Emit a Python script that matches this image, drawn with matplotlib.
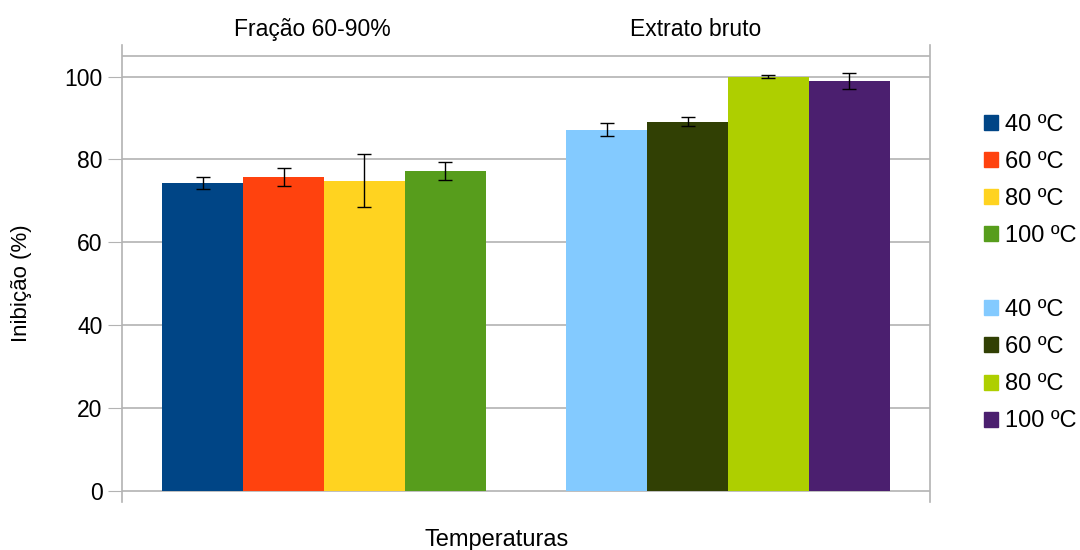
import numpy as np
import matplotlib.pyplot as plt
from matplotlib.patches import Patch

plt.rcParams['font.family'] = ['Liberation Sans', 'DejaVu Sans']

groups = ['Fração 60-90%', 'Extrato bruto']
temps = ['40 ºC', '60 ºC', '80 ºC', '100 ºC']
# inhibition values (%) and error bars, per group
frac_vals = [74.3, 75.8, 74.8, 77.2]
frac_err = [1.5, 2.1, 6.4, 2.1]
bruto_vals = [87.2, 89.1, 100.0, 99.0]
bruto_err = [1.5, 1.1, 0.3, 1.9]
frac_colors = ['#004586', '#ff420e', '#ffd320', '#579d1c']
bruto_colors = ['#83caff', '#314004', '#aecf00', '#4b1f6f']

fig = plt.figure(figsize=[10.8, 5.5], dpi=100)
ax = fig.add_axes([122/1080, 1-502/550, 808/1080, 457/550])

w = 0.2
handles = []
for i in range(4):
    x = 0 + (i - 1.5) * w
    ax.bar(x, frac_vals[i], w, color=frac_colors[i], zorder=2)
    ax.errorbar(x, frac_vals[i], yerr=frac_err[i], fmt='none', ecolor='black',
                elinewidth=1, capsize=5.3, capthick=1, zorder=3)
    handles.append(Patch(color=frac_colors[i], label=temps[i]))
handles.append(Patch(color='none', label=' '))
for i in range(4):
    x = 1 + (i - 1.5) * w
    ax.bar(x, bruto_vals[i], w, color=bruto_colors[i], zorder=2)
    ax.errorbar(x, bruto_vals[i], yerr=bruto_err[i], fmt='none', ecolor='black',
                elinewidth=1, capsize=5.3, capthick=1, zorder=3)
    handles.append(Patch(color=bruto_colors[i], label=temps[i]))

ax.set_xlim(-0.5, 1.5)
ax.set_ylim(-2.65, 107.6)
ax.set_yticks([0, 20, 40, 60, 80, 100])
ax.set_xticks([])
for y in [0, 20, 40, 60, 80, 100, 105]:
    ax.axhline(y, color='#b3b3b3', lw=1.2, zorder=1)
for s in ['top', 'bottom']:
    ax.spines[s].set_visible(False)
for s in ['left', 'right']:
    ax.spines[s].set_color('#b3b3b3')
    ax.spines[s].set_linewidth(1.2)
ax.tick_params(axis='y', length=10, color='#b3b3b3', labelsize=16.5, pad=4)

ax.text(0.235, 1.035, groups[0], transform=ax.transAxes, ha='center', va='center', fontsize=16.5)
ax.text(0.71, 1.035, groups[1], transform=ax.transAxes, ha='center', va='center', fontsize=16.5)

fig.text(497/1080, 1-540/550, 'Temperaturas', ha='center', va='center', fontsize=17)
fig.text(22/1080, 1-283/550, 'Inibição (%)', ha='center', va='center', rotation=90, fontsize=16)

fig.legend(handles=handles, loc='center left', bbox_to_anchor=(984/1080, 1-273/550),
           frameon=False, fontsize=17, handlelength=0.6, handleheight=0.6,
           handletextpad=0.3, labelspacing=0.64, borderpad=0, borderaxespad=0)

fig.savefig('out.png', dpi=100)
